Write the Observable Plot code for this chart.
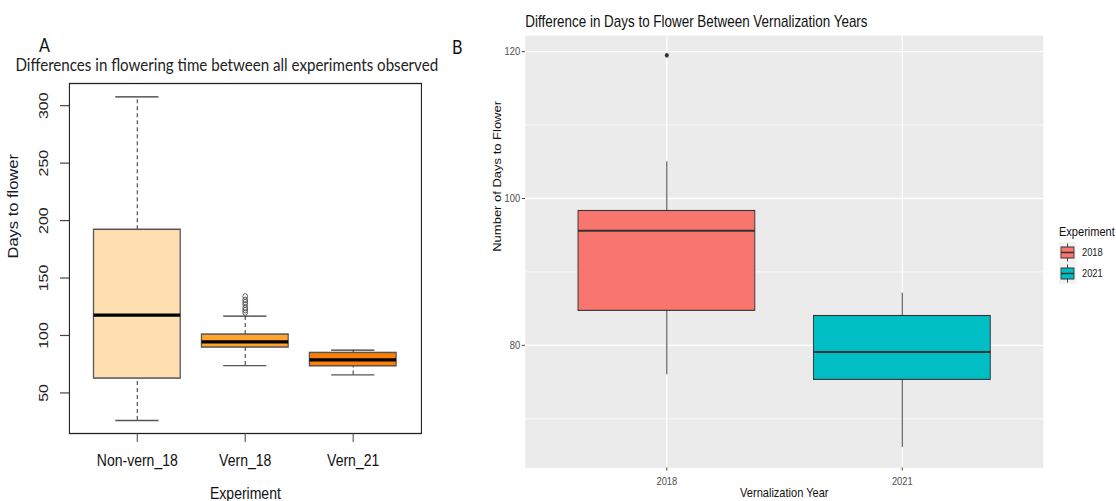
<!DOCTYPE html>
<html><head><meta charset="utf-8">
<script src="https://cdn.jsdelivr.net/npm/d3@7"></script>
<script src="https://cdn.jsdelivr.net/npm/@observablehq/plot@0.6"></script>
<style>
html,body{margin:0;padding:0;background:#fff;overflow:hidden;width:1116px;height:501px;}
#page{position:absolute;left:0;top:0;width:1313px;height:501px;transform:scaleX(0.85);transform-origin:0 0;}
#pa,#pb{position:absolute;top:0;}
#pa{left:0}
#pb{left:541px}
#ov{position:absolute;left:0;top:0;}
</style></head><body>
<div id="page"><div id="pa"></div><div id="pb"></div><svg id="ov" width="1313" height="501"></svg></div>
<script>
// ---------- Panel A data (base R boxplot) ----------
const expA   = ["Non-vern_18", "Vern_18", "Vern_21"];
const lowA   = [26, 73.8, 65.7];
const q1A    = [62.5, 89.5, 73.2];
const medA   = [117.7, 94.4, 78.7];
const q3A    = [192, 100.8, 84.8];
const highA  = [307.6, 116.8, 87.2];
const outExpA = ["Vern_18", "Vern_18", "Vern_18", "Vern_18", "Vern_18", "Vern_18", "Vern_18"];
const outValA = [120, 122, 124, 127, 129, 131, 134];
const yTicksA = [50, 100, 150, 200, 250, 300];

// ---------- Panel B data (ggplot boxplot) ----------
const yearsB = ["2018", "2021"];
const lowB   = [76, 66.1];
const q1B    = [84.7, 75.3];
const medB   = [95.6, 79.1];
const q3B    = [98.3, 84.0];
const highB  = [105, 87.1];
const outYearB = ["2018"];
const outValB  = [119.5];
const yMajorB = [80, 100, 120];
const yMinorB = [70, 90, 110];

const colorsA = ["#FFDFB1", "#FFA52C", "#FF8000"];
const colorsB = ["#F8766D", "#00BFC4"];

const S = 0.85;              // horizontal squeeze of the whole figure
const px = v => v / S;       // page px -> inner px
const FONT = "'Liberation Sans', Arial, sans-serif";

const rowsA = expA.map((e, i) => ({exp: e, low: lowA[i], q1: q1A[i], med: medA[i], q3: q3A[i], high: highA[i]}));
const outA = outExpA.map((e, i) => ({exp: e, v: outValA[i]}));
const rowsB = yearsB.map((e, i) => ({year: e, low: lowB[i], q1: q1B[i], med: medB[i], q3: q3B[i], high: highB[i]}));
const outB = outYearB.map((e, i) => ({year: e, v: outValB[i]}));

const widthA = 541;
const mlA = px(69), mrA = widthA - px(421);
const plotA = Plot.plot({
  width: widthA, height: 501,
  marginLeft: mlA, marginRight: mrA, marginTop: 83, marginBottom: 68,
  style: {fontFamily: FONT, fontSize: "16px", background: "transparent", overflow: "visible", color: "#222"},
  x: {type: "band", domain: expA, paddingInner: 0.2, paddingOuter: 0.22},
  y: {domain: [14.7, 319.3]},
  color: {type: "ordinal", domain: expA, range: colorsA},
  marks: [
    Plot.ruleX(rowsA, {x: "exp", y1: "q3", y2: "high", stroke: "#333", strokeWidth: 1.2, strokeDasharray: "4,3"}),
    Plot.ruleX(rowsA, {x: "exp", y1: "low", y2: "q1", stroke: "#333", strokeWidth: 1.2, strokeDasharray: "4,3"}),
    Plot.tickY(rowsA, {x: "exp", y: "high", stroke: "#333", strokeWidth: 1.3, insetLeft: 25.6, insetRight: 25.6}),
    Plot.tickY(rowsA, {x: "exp", y: "low", stroke: "#555", strokeWidth: 1.3, insetLeft: 25.6, insetRight: 25.6}),
    Plot.barY(rowsA, {x: "exp", y1: "q1", y2: "q3", fill: "exp", stroke: "#555", strokeWidth: 1.5}),
    Plot.tickY(rowsA, {x: "exp", y: "med", stroke: "#000", strokeWidth: 3.2}),
    Plot.dot(outA, {x: "exp", y: "v", r: 2.8, stroke: "#555", fill: "none", strokeWidth: 1}),
    Plot.frame({stroke: "#222", strokeWidth: 1.3}),
    Plot.axisY(yTicksA, {tickSize: px(9), tickFormat: () => "", label: null, stroke: "#444", strokeWidth: 1.2}),
    Plot.text(yTicksA, {y: d => d, text: d => String(d), frameAnchor: "left", dx: px(43) - mlA, rotate: -90, textAnchor: "middle", fontSize: 16, fill: "#222"}),
    Plot.axisX(expA, {tickSize: 9, tickPadding: 12, fontSize: 16.5, label: null, stroke: "#444", strokeWidth: 1.2, fill: "#111"}),
    Plot.text(["Experiment"], {frameAnchor: "bottom", lineAnchor: "top", dy: 54, fontSize: 16.5, fill: "#111"}),
    Plot.text(["Days to flower"], {frameAnchor: "left", dx: px(13) - mlA, rotate: -90, fontSize: 16.5, fill: "#1a1a2a"}),
    Plot.text(["Differences in flowering time between all experiments observed"], {frameAnchor: "top-left", textAnchor: "start", lineAnchor: "top", dx: px(15) - mlA, dy: 58 - 83, fontSize: 17.8, fontFamily: "Lato, 'Open Sans', sans-serif", fill: "#222"})
  ]
});
document.getElementById("pa").appendChild(plotA);

const widthB = 772;
const mlB = px(65), mrB = widthB - px(583);
const plotB = Plot.plot({
  width: widthB, height: 501,
  marginLeft: mlB, marginRight: mrB, marginTop: 35, marginBottom: 33.5,
  style: {fontFamily: FONT, fontSize: "11px", background: "transparent", overflow: "visible"},
  x: {type: "band", domain: yearsB, paddingInner: 0.25, paddingOuter: 0.225},
  y: {domain: [63.3, 122.2]},
  color: {type: "ordinal", domain: yearsB, range: colorsB},
  marks: [
    Plot.frame({fill: "#EBEBEB", stroke: null}),
    Plot.ruleY(yMinorB, {stroke: "#fff", strokeWidth: 0.7}),
    Plot.ruleY(yMajorB, {stroke: "#fff", strokeWidth: 1.4}),
    Plot.ruleX(yearsB, {x: d => d, stroke: "#fff", strokeWidth: 1.4}),
    Plot.ruleX(rowsB, {x: "year", y1: "low", y2: "high", stroke: "#333", strokeWidth: 1}),
    Plot.barY(rowsB, {x: "year", y1: "q1", y2: "q3", fill: "year", stroke: "#333", strokeWidth: 1.1}),
    Plot.tickY(rowsB, {x: "year", y: "med", stroke: "#333", strokeWidth: 2}),
    Plot.dot(outB, {x: "year", y: "v", r: 2.3, fill: "#333", stroke: null}),
    Plot.axisY(yMajorB, {tickSize: px(3), tickPadding: 2.5, fontSize: 11, label: null, stroke: "#333", fill: "#4D4D4D"}),
    Plot.axisX(yearsB, {tickSize: 3, tickPadding: 6.5, fontSize: 11, label: null, stroke: "#333", fill: "#4D4D4D"}),
    Plot.text(["Vernalization Year"], {frameAnchor: "bottom", lineAnchor: "top", dy: 20, fontSize: 13, fill: "#111"}),
    Plot.text(["Number of Days to Flower"], {frameAnchor: "left", dx: px(497 - 460) - mlB, rotate: -90, fontSize: 13, fill: "#111"}),
    Plot.text(["Difference in Days to Flower Between Vernalization Years"], {frameAnchor: "top-left", textAnchor: "start", lineAnchor: "top", dy: 15.7 - 35, fontSize: 15.8, fill: "#111"})
  ]
});
document.getElementById("pb").appendChild(plotB);

// ---------- overlay: panel letters and ggplot-style legend ----------
const ov = d3.select("#ov");
ov.append("text").attr("x", px(39)).attr("y", 52).attr("font-family", "Lato, 'Open Sans', sans-serif").attr("font-size", 19).attr("fill", "#111").text("A");
ov.append("text").attr("x", px(452)).attr("y", 54).attr("font-family", "Lato, 'Open Sans', sans-serif").attr("font-size", 19).attr("fill", "#111").text("B");

const lg = ov.append("g").attr("font-family", FONT);
lg.append("text").attr("x", px(1059)).attr("y", 236).attr("font-size", 13).attr("fill", "#111").text("Experiment");
const rowCenters = [252.5, 273.5];
yearsB.forEach((yr, i) => {
  const c = rowCenters[i];
  const g = lg.append("g");
  g.append("rect").attr("x", px(1059)).attr("y", c - 10.5).attr("width", px(17)).attr("height", 21).attr("fill", "#F2F2F2");
  g.append("line").attr("x1", px(1067.5)).attr("x2", px(1067.5)).attr("y1", c - 9).attr("y2", c + 9).attr("stroke", "#333").attr("stroke-width", 1);
  g.append("rect").attr("x", px(1061)).attr("y", c - 5.5).attr("width", px(13)).attr("height", 11).attr("fill", colorsB[i]).attr("stroke", "#333").attr("stroke-width", 1);
  g.append("line").attr("x1", px(1061)).attr("x2", px(1074)).attr("y1", c).attr("y2", c).attr("stroke", "#333").attr("stroke-width", 1.5);
  lg.append("text").attr("x", px(1082)).attr("y", c + 3.9).attr("font-size", 11).attr("fill", "#1a1a1a").text(yr);
});
</script></body></html>
